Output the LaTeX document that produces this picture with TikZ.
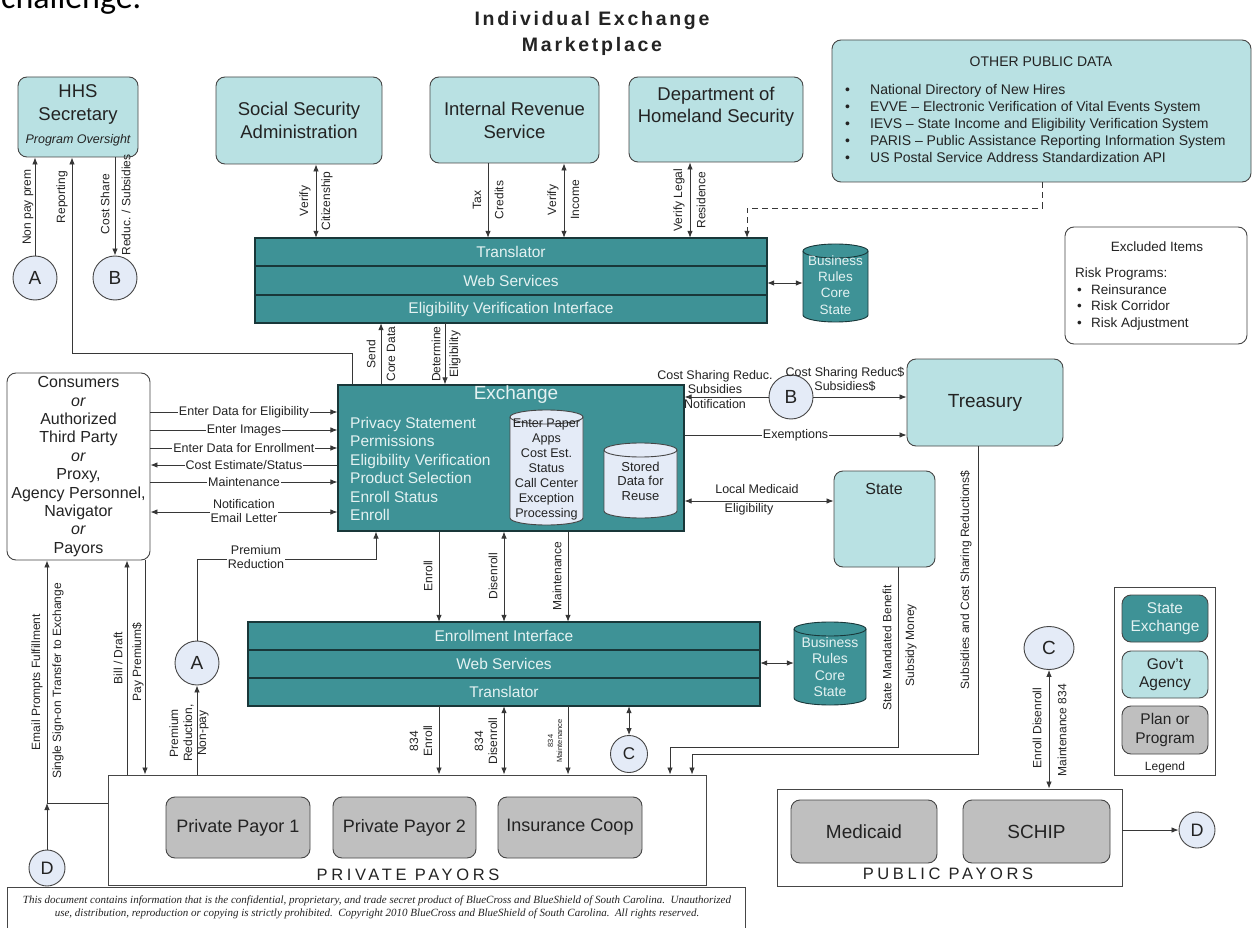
\documentclass[tikz,border=0pt]{standalone}
\usepackage{fontspec}
\setmainfont{Liberation Sans}
\newfontfamily\footserif{Liberation Serif}
\newfontfamily\calibfont{Carlito}
\usetikzlibrary{arrows.meta,shapes.geometric}
\definecolor{govfill}{RGB}{185,225,227}
\definecolor{exfill}{RGB}{62,146,150}
\definecolor{exline}{RGB}{25,55,57}
\definecolor{planfill}{RGB}{191,191,191}
\definecolor{circfill}{RGB}{228,235,247}
\definecolor{bordc}{RGB}{70,70,70}
\definecolor{linec}{RGB}{55,55,55}
\definecolor{textc}{RGB}{35,35,35}
\definecolor{extext}{RGB}{228,242,242}
\newcommand\fsz[2]{\fontsize{#1}{#2}\selectfont}
\newcommand\drawcyl[7]{%
  \path[#7] (#1,#2+#6) -- (#1,#4-#6) arc[start angle=180,end angle=360,x radius=#5pt,y radius=#6pt] -- (#3,#2+#6) arc[start angle=0,end angle=180,x radius=#5pt,y radius=#6pt] -- cycle;
  \path[#7,fill=none] (#1,#2+#6) arc[start angle=180,end angle=360,x radius=#5pt,y radius=#6pt];}
\tikzset{
  box/.style={draw=bordc, line width=0.9pt, rounded corners=9pt, align=center, inner sep=0pt, text=textc},
  gov/.style={box, fill=govfill},
  plan/.style={box, fill=planfill},
  plainbox/.style={draw=bordc, line width=0.9pt, inner sep=0pt, fill=white},
  bandrow/.style={draw=exline, line width=1.4pt, fill=exfill, inner sep=0pt, text=extext, font=\fsz{15.5}{17}},
  circ/.style={circle, draw=bordc, line width=0.9pt, fill=circfill, inner sep=0pt, minimum size=44pt, font=\fsz{19}{21}, text=textc},
  conn/.style={draw=linec, line width=0.8pt},
  arr/.style={conn, -{Latex[length=7pt,width=5.5pt]}},
  dbl/.style={conn, {Latex[length=7pt,width=5.5pt]}-{Latex[length=7pt,width=5.5pt]}},
  lbl/.style={font=\fsz{12}{14}, inner sep=1pt, align=center, text=textc},
  vl/.style={lbl, rotate=90},
  wl/.style={lbl, fill=white, font=\fsz{12.5}{14}},
  cylex/.style={draw=bordc, line width=0.9pt, fill=circfill},
  cylbr/.style={draw=exline, line width=0.9pt, fill=exfill},
  txt/.style={inner sep=0pt, align=center, text=textc},
}
\begin{document}
\begin{tikzpicture}[x=1pt,y=-1pt]
\useasboundingbox (0,0) rectangle (1254,928);
\fill[white] (0,0) rectangle (1254,928);
% header
\node[anchor=base west, inner sep=0, font=\calibfont\fsz{34}{34}, text=black] (chal) at (1,9) {challenge.};
\node[txt, font=\bfseries\fsz{19.5}{26}\addfontfeature{LetterSpace=14}] (title) at (592,33) {Individual Exchange\\Marketplace};
% HHS
\node[gov, minimum width=120pt, minimum height=80pt] (hhs) at (78,117) {};
\node[txt, font=\fsz{18.5}{23}] (hhst) at (78,104) {HHS\\Secretary};
\node[txt, font=\fsz{12.5}{14}\itshape] (hhso) at (78,140) {Program Oversight};
\node[circ] (a1) at (35,278) {A};
\node[circ] (b1) at (115,278) {B};
% agencies
\node[gov, minimum width=166pt, minimum height=87pt, font=\fsz{18.5}{23}] (ssa) at (299,120.5) {Social Security\\Administration};
\node[gov, minimum width=169pt, minimum height=86pt, font=\fsz{18.5}{23}] (irs) at (514.5,120) {Internal Revenue\\Service};
\node[gov, minimum width=174pt, minimum height=85pt] (dhs) at (716,119.5) {};
\node[txt, font=\fsz{18.5}{22}] (dhst) at (716,107) {Department of\\Homeland Security};
% other public data
\node[gov, minimum width=419pt, minimum height=142pt] (opd) at (1041.5,111) {};
\node[txt, font=\fsz{14}{16}] (opdt) at (1041,62) {OTHER PUBLIC DATA};
\node[anchor=north west, align=left, inner sep=0, font=\fsz{14}{17}, text=textc] (opdl) at (845,84) {%
\makebox[25pt][l]{\textbullet}National Directory of New Hires\\
\makebox[25pt][l]{\textbullet}EVVE -- Electronic Verification of Vital Events System\\
\makebox[25pt][l]{\textbullet}IEVS -- State Income and Eligibility Verification System\\
\makebox[25pt][l]{\textbullet}PARIS -- Public Assistance Reporting Information System\\
\makebox[25pt][l]{\textbullet}US Postal Service Address Standardization API};
% excluded
\node[box, fill=white, minimum width=182pt, minimum height=117pt] (excl) at (1156,285.5) {};
\node[txt, font=\fsz{13.5}{16}] (exclt) at (1157,247) {Excluded Items};
\node[anchor=north west, align=left, inner sep=0, font=\fsz{13.5}{16.5}, text=textc] (excll) at (1075,268) {%
Risk Programs:\\
\hspace{2pt}\makebox[14pt][l]{\textbullet}Reinsurance\\
\hspace{2pt}\makebox[14pt][l]{\textbullet}Risk Corridor\\
\hspace{2pt}\makebox[14pt][l]{\textbullet}Risk Adjustment};
% translator block
\node[bandrow, minimum width=512pt, minimum height=28pt] (tr1) at (511,252) {Translator};
\node[bandrow, minimum width=512pt, minimum height=29pt] (tr2) at (511,280.5) {Web Services};
\node[bandrow, minimum width=512pt, minimum height=28pt] (tr3) at (511,309) {Eligibility Verification Interface};
\node[inner sep=0, minimum width=512pt, minimum height=85pt] (trans) at (511,280.5) {};
\drawcyl{803}{244}{868}{322}{32.5}{7}{cylbr}
\node[txt, minimum width=65pt, minimum height=78pt, font=\fsz{13.5}{16.3}, text=extext] (br1) at (835.5,285) {Business\\Rules\\Core\\State};
% exchange
\node[draw=exline, line width=1.2pt, fill=exfill, minimum width=346pt, minimum height=146pt, inner sep=0] (exch) at (511,458) {};
\node[txt, font=\fsz{19}{21}, text=extext] (excht) at (516,395) {Exchange};
\node[anchor=north west, align=left, inner sep=0, font=\fsz{15.5}{18.4}, text=extext] (exlist) at (350,417) {Privacy Statement\\Permissions\\Eligibility Verification\\Product Selection\\Enroll Status\\Enroll};
\drawcyl{510}{410}{583}{525}{36.5}{7}{cylex}
\node[txt, font=\fsz{12.6}{15}] (cyl1) at (546.5,469) {Enter Paper\\Apps\\Cost Est.\\Status\\Call Center\\Exception\\Processing};
\drawcyl{604}{443}{677}{518}{36.5}{7}{cylex}
\node[txt, font=\fsz{13}{14.5}] (cyl2) at (640.5,481) {Stored\\Data for\\Reuse};
% consumers
\node[box, fill=white, minimum width=143pt, minimum height=187pt, font=\fsz{16}{18.4}] (cons) at (78.5,466.5) {Consumers\\\textit{or}\\Authorized\\Third Party\\\textit{or}\\Proxy,\\Agency Personnel,\\Navigator\\\textit{or}\\Payors};
% treasury, state
\node[gov, minimum width=156pt, minimum height=87pt, font=\fsz{19}{21}] (treas) at (985,402.5) {Treasury};
\node[gov, minimum width=101pt, minimum height=96pt] (state) at (884.5,519) {};
\node[txt, font=\fsz{16}{18}] (statet) at (884,489) {State};
\node[circ] (b2) at (791,397) {B};
% enrollment block
\node[bandrow, minimum width=512pt, minimum height=28pt] (en1) at (504,636) {Enrollment Interface};
\node[bandrow, minimum width=512pt, minimum height=28pt] (en2) at (504,664) {Web Services};
\node[bandrow, minimum width=512pt, minimum height=28pt] (en3) at (504,692) {Translator};
\node[inner sep=0, minimum width=512pt, minimum height=84pt] (enr) at (504,664) {};
\drawcyl{794}{622}{866}{705}{36}{7}{cylbr}
\node[txt, minimum width=72pt, minimum height=83pt, font=\fsz{14}{16.5}, text=extext] (br2) at (830,667) {Business\\Rules\\Core\\State};
\node[circ] (a2) at (197,663) {A};
\node[circ, minimum size=37pt, font=\fsz{17}{19}] (c1) at (629,754) {C};
\node[ellipse, draw=bordc, line width=0.9pt, fill=circfill, inner sep=0pt, minimum width=50pt, minimum height=43pt, font=\fsz{19}{21}, text=textc] (c2) at (1049,648) {C};
% legend
\node[plainbox, minimum width=101pt, minimum height=188pt] (leg) at (1164.5,681) {};
\node[box, fill=exfill, text=extext, minimum width=86pt, minimum height=47pt, font=\fsz{15.5}{18.5}] (lse) at (1165,618.5) {State\\Exchange};
\node[gov, minimum width=86pt, minimum height=47pt, font=\fsz{15.5}{18.5}] (lga) at (1165,674.5) {Gov't\\Agency};
\node[plan, minimum width=86pt, minimum height=48pt, font=\fsz{15.5}{18.5}] (lpp) at (1165,730) {Plan or\\Program};
\node[txt, font=\fsz{12}{14}] (legt) at (1165,767) {Legend};
% private payors
\node[plainbox, minimum width=598pt, minimum height=110pt] (pp) at (407,830) {};
\node[plan, minimum width=144pt, minimum height=61pt, font=\fsz{18}{20}] (pp1) at (238,827.5) {Private Payor 1};
\node[plan, minimum width=143pt, minimum height=61pt, font=\fsz{18}{20}] (pp2) at (404.5,827.5) {Private Payor 2};
\node[plan, minimum width=144pt, minimum height=61pt, font=\fsz{18}{20}] (ppc) at (570,827.5) {Insurance Coop};
\node[txt, font=\fsz{16.5}{18}\addfontfeature{LetterSpace=22}] (ppt) at (408,875) {PRIVATE PAYORS};
% public payors
\node[plainbox, minimum width=345pt, minimum height=97pt] (pub) at (949.5,837.5) {};
\node[plan, minimum width=146pt, minimum height=63pt, font=\fsz{19}{21}] (med) at (864,831.5) {Medicaid};
\node[plan, minimum width=147pt, minimum height=63pt, font=\fsz{19}{21}] (schip) at (1036.5,831.5) {SCHIP};
\node[txt, font=\fsz{16.5}{18}\addfontfeature{LetterSpace=22}] (pubt) at (948,874) {PUBLIC PAYORS};
\node[circ, minimum size=36pt, font=\fsz{18}{20}] (d1) at (1197,830) {D};
\node[circ, minimum size=36pt, font=\fsz{18}{20}] (d2) at (47,868) {D};
% footer
\node[plainbox, anchor=north west, minimum width=738pt, minimum height=60pt] (foot) at (7,887) {};
\node[txt, font=\footserif\itshape\fsz{11}{13}] (foott) at (377,907.5) {This document contains information that is the confidential, proprietary, and trade secret product of BlueCross and BlueShield of South Carolina.\ \ Unauthorized\\use, distribution, reproduction or copying is strictly prohibited.\ \ Copyright 2010 BlueCross and BlueShield of South Carolina.\ \ All rights reserved.};

% ---------- connectors ----------
\draw[arr] (a1) -- (a1 |- hhs.south);
\node[vl] (l1) at (28,207) {Non pay prem};
\draw[arr] (352,0 |- exch.north) -- (352,353) -- (72,353) -- (72,0 |- hhs.south);
\node[vl] (l2) at (62,197) {Reporting};
\draw[arr] (b1 |- hhs.south) -- (b1);
\node[vl] (l3) at (105,204) {Cost Share};
\node[vl] (l4) at (126,205) {Reduc. / Subsidies};
% agencies
\draw[dbl] (316,0 |- ssa.south) -- (316,0 |- trans.north);
\node[vl] (l5) at (305,201) {Verify};
\node[vl] (l6) at (327,201) {Citizenship};
\draw[arr] (488,0 |- irs.south) -- (488,0 |- trans.north);
\node[vl] (l7) at (477,200) {Tax};
\node[vl] (l8) at (499,200) {Credits};
\draw[dbl] (564,0 |- irs.south) -- (564,0 |- trans.north);
\node[vl] (l9) at (553,200) {Verify};
\node[vl] (l10) at (575,200) {Income};
\draw[dbl] (690,0 |- dhs.south) -- (690,0 |- trans.north);
\node[vl] (l11) at (679,200) {Verify Legal};
\node[vl] (l12) at (701,200) {Residence};
\draw[arr, dash pattern=on 6pt off 4pt] (1042,0 |- opd.south) -- (1042,208) -- (747,208) -- (747,0 |- trans.north);
\draw[dbl] (trans.east |- 0,283) -- (br1.west |- 0,283);
% translator - exchange
\draw[arr] (381,0 |- exch.north) -- (381,0 |- trans.south);
\node[vl] (l13) at (371,354) {Send};
\node[vl] (l14) at (391,354) {Core Data};
\draw[arr] (445,0 |- trans.south) -- (445,0 |- exch.north);
\node[vl] (l15) at (436,354) {Determine};
\node[vl] (l16) at (455,354) {Eligibility};
% consumers - exchange
\draw[arr] (cons.east |- 0,412) -- (exch.west |- 0,412) node[wl, midway] (m1) {Enter Data for Eligibility};
\draw[arr] (cons.east |- 0,430) -- (exch.west |- 0,430) node[wl, midway] (m2) {Enter Images};
\draw[arr] (cons.east |- 0,448) -- (exch.west |- 0,448) node[wl, midway] (m3) {Enter Data for Enrollment};
\draw[arr] (exch.west |- 0,465) -- (cons.east |- 0,465) node[wl, midway] (m4) {Cost Estimate/Status};
\draw[arr] (cons.east |- 0,482) -- (exch.west |- 0,482) node[wl, midway] (m5) {Maintenance};
\draw[dbl] (cons.east |- 0,512) -- (exch.west |- 0,512) node[wl, midway, yshift=1pt] (m6) {Notification\\Email Letter};
% premium reduction
\draw[arr] (a2) -- (a2 |- 0,559) -- (376,559) -- (376,0 |- exch.south);
\node[wl] (m7) at (256,557) {Premium\\Reduction};
% exchange - enrollment
\draw[arr] (439,0 |- exch.south) -- (439,0 |- enr.north);
\node[vl] (l17) at (428,576) {Enroll};
\draw[dbl] (504,0 |- exch.south) -- (504,0 |- enr.north);
\node[vl] (l18) at (493,576) {Disenroll};
\draw[arr] (568,0 |- exch.south) -- (568,0 |- enr.north);
\node[vl] (l19) at (557,576) {Maintenance};
\draw[dbl] (enr.east |- 0,663) -- (br2.west |- 0,663);
% enrollment - private payors
\draw[arr] (439,0 |- enr.south) -- (439,0 |- pp.north);
\node[vl] (l20) at (421,741) {834\\Enroll};
\draw[dbl] (504,0 |- enr.south) -- (504,0 |- pp.north);
\node[vl] (l21) at (486,741) {834\\Disenroll};
\draw[arr] (568,0 |- enr.south) -- (568,0 |- pp.north);
\node[vl, font=\fsz{7.5}{9}] (l22) at (555,741) {834\\Maintenance};
\draw[dbl] (c1 |- enr.south) -- (c1);
% state / treasury to private payors
\draw[arr] (898,0 |- state.south) -- (898,747) -- (670,747) -- (670,0 |- pp.north);
\node[vl] (l23) at (887,648) {State Mandated Benefit};
\node[vl] (l24) at (911,645) {Subsidy Money};
\draw[arr] (978,0 |- treas.south) -- (978,754) -- (692,754) -- (692,0 |- pp.north);
\node[vl] (l25) at (966,580) {Subsidies and Cost Sharing Reductions\$};
% B, treasury, state
\draw[arr] (b2) -- (exch.east |- b2);
\draw[arr] (b2) -- (treas.west |- b2);
\node[lbl, font=\fsz{12.5}{14.5}] (m8) at (715,389.5) {Cost Sharing Reduc.\\Subsidies\\Notification};
\node[lbl, font=\fsz{12.5}{14.5}] (m9) at (845,379.5) {Cost Sharing Reduc\$\\Subsidies\$};
\draw[arr] (exch.east |- 0,435) -- (treas.west |- 0,435) node[wl, midway] (m10) {Exemptions};
\draw[dbl] (exch.east |- 0,501) -- (state.west |- 0,501);
\node[lbl, font=\fsz{12.5}{14}] (m11) at (757,489) {Local Medicaid};
\node[lbl, font=\fsz{12.5}{14}] (m12) at (749,509) {Eligibility};
% public payors
\draw[dbl] (c2) -- (c2 |- pub.north);
\node[vl] (l26) at (1037,728) {Enroll Disenroll};
\node[vl] (l27) at (1062,730) {Maintenance 834};
\draw[arr] (pub.east |- d1) -- (d1);
% left side
\coordinate (jd) at (47,803);
\draw[arr] (d2) -- (jd);
\draw[arr] (pp.west |- jd) -- (jd) -- (cons.south -| jd);
\node[vl] (l28) at (37,682) {Email Prompts Fulfillment};
\node[vl] (l29) at (58,681) {Single Sign-on Transfer to Exchange};
\draw[arr] (127,0 |- pp.north) -- (127,0 |- cons.south);
\node[vl] (l30) at (118,658) {Bill / Draft};
\draw[arr] (145,0 |- cons.south) -- (145,0 |- pp.north);
\node[vl] (l31) at (138,662) {Pay Premium\$};
\draw[arr] (a2 |- pp.north) -- (a2);
\node[vl] (l32) at (189,733) {Premium\\Reduction,\\Non-pay};
\end{tikzpicture}
\end{document}
